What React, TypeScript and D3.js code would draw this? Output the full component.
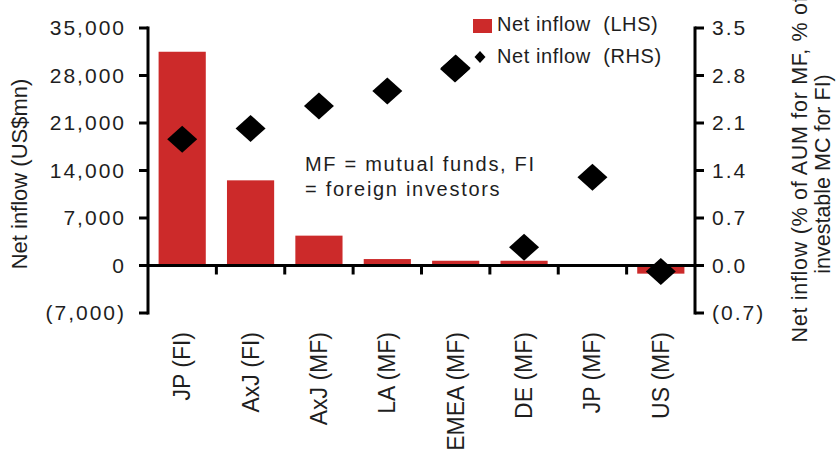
import { useRef, useEffect } from 'react';
import * as d3 from 'd3';

const categories = ['JP (FI)', 'AxJ (FI)', 'AxJ (MF)', 'LA (MF)', 'EMEA (MF)', 'DE (MF)', 'JP (MF)', 'US (MF)'];
const inflowUsd = [31500, 12550, 4400, 950, 700, 700, 0, -1200]; // LHS, US$mn
const inflowPct = [1.86, 2.02, 2.35, 2.57, 2.91, 0.27, 1.3, -0.09]; // RHS, %
const leftTicks = [-7000, 0, 7000, 14000, 21000, 28000, 35000];
const rightTicks = [-0.7, 0, 0.7, 1.4, 2.1, 2.8, 3.5];
const legendLabels = ['Net inflow  (LHS)', 'Net inflow  (RHS)'];
const noteLines = ['MF = mutual funds, FI', '= foreign investors'];
const leftTitle = 'Net inflow (US$mn)';
const rightTitleLines = ['Net inflow (% of AUM for MF, % of', 'investable MC for FI)'];

const RED = '#cc2a2a';
const INK = '#1e1e1e';
const FONT = '"Liberation Sans", Arial, sans-serif';

const diamond = (hw: number, hh: number) => `M0,${-hh}L${hw},0L0,${hh}L${-hw},0Z`;

const App = () => {
  const svgRef = useRef<SVGSVGElement>(null);

  useEffect(() => {
    if (!svgRef.current) return;

    const width = 839;
    const height = 461;
    const left = 148;
    const right = 695;
    const top = 28;
    const bottom = 313;

    const svg = d3.select(svgRef.current).attr('width', width).attr('height', height);
    svg.selectAll('*').remove();

    const yL = d3.scaleLinear().domain([-7000, 35000]).range([bottom, top]);
    const yR = d3.scaleLinear().domain([-0.7, 3.5]).range([bottom, top]);
    const x = d3
      .scaleBand<string>()
      .domain(categories)
      .range([left, right])
      .paddingInner(0.31)
      .paddingOuter(0.155);

    const fmtL = (v: number) => (v < 0 ? `(${d3.format(',')(-v)})` : d3.format(',')(v));
    const fmtR = (v: number) => (v < 0 ? `(${d3.format('.1f')(-v)})` : d3.format('.1f')(v));

    // bars
    svg
      .append('g')
      .selectAll('rect')
      .data(categories)
      .enter()
      .append('rect')
      .attr('x', (d) => x(d)!)
      .attr('width', x.bandwidth())
      .attr('y', (d, i) => Math.min(yL(inflowUsd[i]), yL(0)))
      .attr('height', (d, i) => Math.abs(yL(inflowUsd[i]) - yL(0)))
      .attr('fill', RED);

    const axes = svg.append('g').attr('stroke', '#000').attr('stroke-width', 3).attr('fill', 'none');

    // left axis
    axes.append('line').attr('x1', left).attr('x2', left).attr('y1', top - 1.5).attr('y2', bottom + 1.5);
    axes
      .selectAll('.lt')
      .data(leftTicks)
      .enter()
      .append('line')
      .attr('x1', left - 9)
      .attr('x2', left)
      .attr('y1', (d) => yL(d))
      .attr('y2', (d) => yL(d));

    // right axis
    axes.append('line').attr('x1', right).attr('x2', right).attr('y1', top - 1.5).attr('y2', bottom + 1.5);
    axes
      .selectAll('.rt')
      .data(rightTicks)
      .enter()
      .append('line')
      .attr('x1', right)
      .attr('x2', right + 9)
      .attr('y1', (d) => yR(d))
      .attr('y2', (d) => yR(d));

    // zero line with category ticks between bands
    const y0 = yL(0);
    axes.append('line').attr('x1', left).attr('x2', right).attr('y1', y0).attr('y2', y0);
    const step = x.step();
    axes
      .selectAll('.xt')
      .data(categories.slice(1))
      .enter()
      .append('line')
      .attr('x1', (d) => x(d)! - (step - x.bandwidth()) / 2)
      .attr('x2', (d) => x(d)! - (step - x.bandwidth()) / 2)
      .attr('y1', y0)
      .attr('y2', y0 + 9);

    // diamonds
    svg
      .append('g')
      .selectAll('path')
      .data(categories)
      .enter()
      .append('path')
      .attr('d', diamond(15, 13.5))
      .attr('transform', (d, i) => `translate(${x(d)! + x.bandwidth() / 2},${yR(inflowPct[i])})`)
      .attr('fill', '#000');

    const text = svg.append('g').attr('font-family', FONT).attr('fill', INK);

    // tick labels
    text
      .selectAll('.ll')
      .data(leftTicks)
      .enter()
      .append('text')
      .attr('x', 126)
      .attr('y', (d) => yL(d))
      .attr('dy', '0.35em')
      .attr('text-anchor', 'end')
      .attr('font-size', 21)
      .attr('letter-spacing', 2)
      .text(fmtL);

    text
      .selectAll('.rl')
      .data(rightTicks)
      .enter()
      .append('text')
      .attr('x', 712)
      .attr('y', (d) => yR(d))
      .attr('dy', '0.35em')
      .attr('font-size', 21)
      .attr('letter-spacing', 2)
      .text(fmtR);

    // category labels
    text
      .selectAll('.cl')
      .data(categories)
      .enter()
      .append('text')
      .attr('transform', (d) => `translate(${x(d)! + x.bandwidth() / 2 + 8},332) rotate(-90)`)
      .attr('text-anchor', 'end')
      .attr('font-size', 23)
      .text((d) => d);

    // axis titles
    text
      .append('text')
      .attr('transform', 'translate(27,174) rotate(-90)')
      .attr('text-anchor', 'middle')
      .attr('font-size', 22)
      .text(leftTitle);

    // the first line runs past the top edge in the original too
    text
      .selectAll('.rtt')
      .data(rightTitleLines)
      .enter()
      .append('text')
      .attr('transform', (d, i) => `translate(${807 + i * 23},${i === 0 ? 169 : 174}) rotate(-90)`)
      .attr('text-anchor', 'middle')
      .attr('font-size', 21.5)
      .attr('letter-spacing', (d, i) => (i === 0 ? 0.7 : 0))
      .text((d) => d);

    // note
    text
      .selectAll('.nt')
      .data(noteLines)
      .enter()
      .append('text')
      .attr('x', 305)
      .attr('y', (d, i) => 171 + i * 25)
      .attr('font-size', 20)
      .attr('letter-spacing', 1.7)
      .text((d) => d);

    // legend
    const legend = svg.append('g');
    legend.append('rect').attr('x', 473).attr('y', 19).attr('width', 19).attr('height', 14).attr('fill', RED);
    legend.append('path').attr('d', diamond(5.5, 6)).attr('transform', 'translate(480,57)').attr('fill', '#000');
    legend.append('path').attr('d', diamond(15, 13.5)).attr('transform', 'translate(455,69)').attr('fill', '#000');
    legend
      .selectAll('text')
      .data(legendLabels)
      .enter()
      .append('text')
      .attr('x', 497)
      .attr('y', (d, i) => 31 + i * 32)
      .attr('font-family', FONT)
      .attr('font-size', 20)
      .attr('letter-spacing', 0.6)
      .attr('fill', INK)
      .style('white-space', 'pre')
      .text((d) => d);
  }, []);

  return (
    <div style={{ position: 'absolute', left: 0, top: 0 }}>
      <svg ref={svgRef} style={{ display: 'block' }}></svg>
    </div>
  );
};

export default App;
